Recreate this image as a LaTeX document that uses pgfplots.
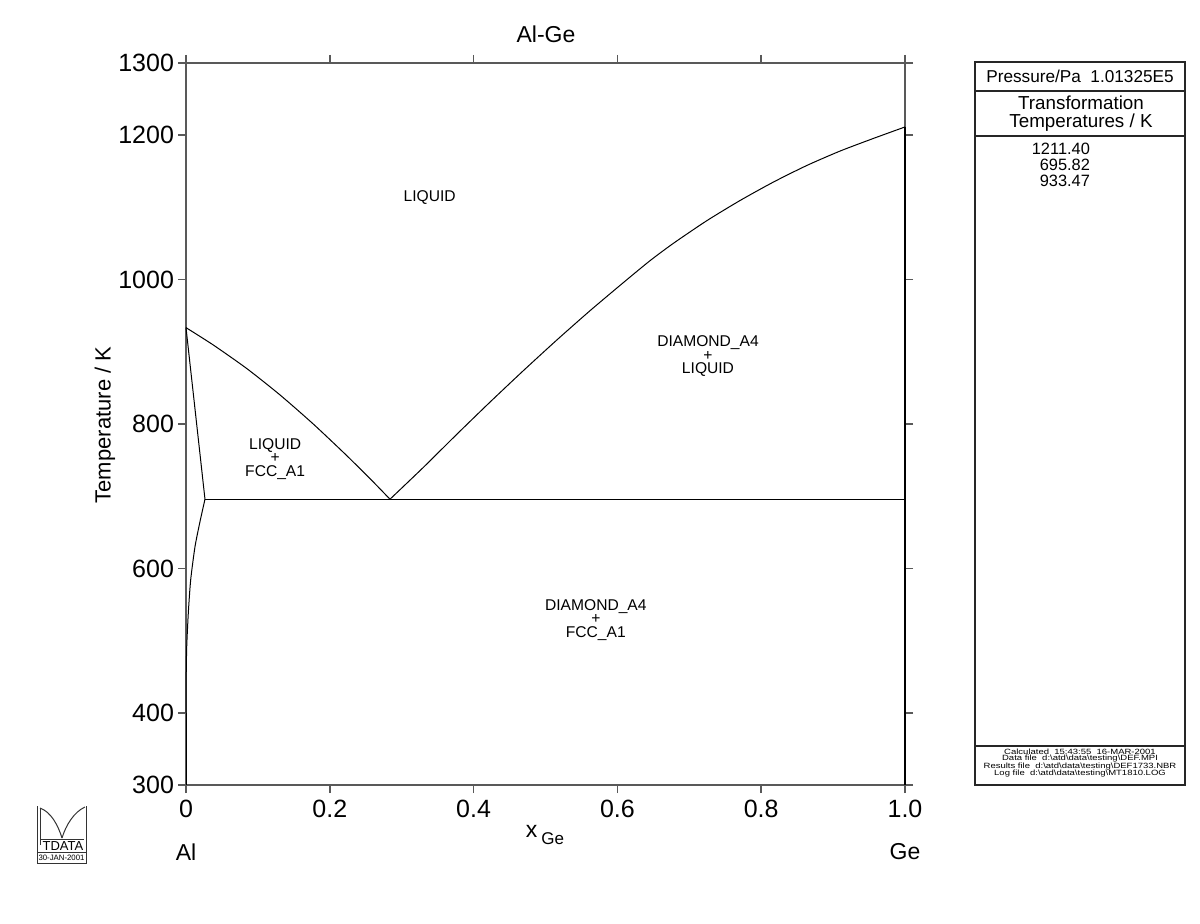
\documentclass[border=0pt]{standalone}
\usepackage{fontspec}
\setmainfont{Liberation Sans}
\newfontfamily\widefont[FakeStretch=1.25]{Liberation Sans}
\usepackage{pgfplots}
\pgfplotsset{compat=1.18}
\begin{document}
\begin{tikzpicture}
\path (0,0) rectangle (600pt,461.5pt);
\begin{axis}[
  at={(93pt,69pt)}, anchor=south west,
  scale only axis, width=359.5pt, height=361pt,
  xmin=0, xmax=1, ymin=300, ymax=1300,
  xtick={0,0.2,0.4,0.6,0.8,1}, xticklabels={0,0.2,0.4,0.6,0.8,1.0},
  ytick={300,400,600,800,1000,1200,1300},
  yticklabels={300,400,600,800,1000,1200,1300},
  tick align=outside, major tick length=4pt,
  axis line style={line width=0.8pt, black!65},
  every tick/.style={line width=0.8pt, black!65},
  ticklabel style={font=\fontsize{12.5}{12.5}\selectfont},
  yticklabel style={xshift=1.5pt},
  /pgf/number format/assume math mode=true,
  clip=false,
]
% left liquidus
\addplot[black, line width=0.5pt, smooth, tension=0.4] coordinates {
(0,933.47) (0.038,909.4) (0.0844,876.9) (0.1307,840.3) (0.1771,799.9)
(0.2235,756.3) (0.2605,719.7) (0.2837,695.82)};
% right liquidus
\addplot[black, line width=0.5pt, smooth, tension=0.4] coordinates {
(0.2837,695.82) (0.330,739.8) (0.3765,785.6) (0.4228,830.3) (0.469,873.7)
(0.5156,916.2) (0.5619,956.9) (0.608,995.6) (0.645,1025.9) (0.6778,1050.2)
(0.7242,1081.5) (0.7705,1109.5) (0.8168,1135) (0.8633,1158)
(0.9096,1178) (0.956,1195.5) (1,1211.4)};
% solidus
\addplot[black, line width=0.5pt] coordinates {(0,933.47) (0.0264,695.82)};
% solvus
\addplot[black, line width=0.5pt, smooth, tension=0.4] coordinates {
(0.0264,695.82) (0.0195,665) (0.0125,630) (0.0065,584) (0.0032,538)
(0.001,491.5) (0.0002,445) (0,400)};
\addplot[black, line width=0.5pt] coordinates {(0,400) (0,300)};
% eutectic
\addplot[black, line width=0.5pt] coordinates {(0.0264,695.82) (1,695.82)};
% Ge side
\addplot[black, line width=0.6pt] coordinates {(1,300) (1,1211.4)};
% labels
\node[font=\fontsize{7.8}{6.75}\selectfont] at (axis cs:0.339,1113) {LIQUID};
\node[font=\fontsize{7.8}{6.75}\selectfont, align=center] at (axis cs:0.124,751.5) {LIQUID\\+\\FCC\_A1};
\node[font=\fontsize{7.8}{6.75}\selectfont, align=center] at (axis cs:0.726,894) {DIAMOND\_A4\\+\\LIQUID};
\node[font=\fontsize{7.8}{6.75}\selectfont, align=center] at (axis cs:0.570,528.5) {DIAMOND\_A4\\+\\FCC\_A1};
\end{axis}
\begin{scope}[shift={(0pt,461.5pt)}, x=0.5pt, y=-0.5pt]
% titles
\node[font=\fontsize{11.5}{11.5}\selectfont] at (546,34) {Al-Ge};
\node[font=\fontsize{11}{11}\selectfont, rotate=90] at (105,425) {Temperature / K};
\node[font=\fontsize{11.5}{11.5}\selectfont] at (545,835) {x\,\raisebox{-0.6ex}{\fontsize{8.5}{8.5}\selectfont Ge}};
\node[font=\fontsize{11.5}{11.5}\selectfont] at (186,852) {Al};
\node[font=\fontsize{11.5}{11.5}\selectfont] at (905,852) {Ge};
% right box
\draw[line width=0.6pt, black!85] (975,62) rectangle (1185,785);
\draw[line width=0.6pt, black!85] (975,91) -- (1185,91);
\draw[line width=0.6pt, black!85] (975,136) -- (1185,136);
\draw[line width=0.6pt, black!85] (975,746) -- (1185,746);
\node[font=\fontsize{8.6}{8.6}\selectfont] at (1080,76) {Pressure/Pa\ \ 1.01325E5};
\node[font=\fontsize{9.4}{9}\selectfont, align=center] at (1081,113.5) {Transformation\\Temperatures / K};
\node[font=\fontsize{8.2}{8}\selectfont, anchor=east] at (1097,149) {1211.40};
\node[font=\fontsize{8.2}{8}\selectfont, anchor=east] at (1097,165) {695.82};
\node[font=\fontsize{8.2}{8}\selectfont, anchor=east] at (1097,181) {933.47};
\begin{scope}[every node/.style={font=\widefont\fontsize{3.8}{3.8}\selectfont, inner sep=0pt}]
\node at (1080,751.5) {Calculated\ \ 15:43:55\ \ 16-MAR-2001};
\node at (1080,759) {Data file\ \ d:\textbackslash atd\textbackslash data\textbackslash testing\textbackslash DEF.MPI};
\node at (1080,766.5) {Results file\ \ d:\textbackslash atd\textbackslash data\textbackslash testing\textbackslash DEF1733.NBR};
\node at (1080,774) {Log file\ \ d:\textbackslash atd\textbackslash data\textbackslash testing\textbackslash MT1810.LOG};
\end{scope}
% logo
\draw[line width=0.5pt, black!80] (37,806) -- (37,863) -- (86,863) -- (86,806);
\draw[line width=0.5pt, black!80] (37,852) -- (86,852);
\draw[line width=0.5pt, black!80] (40,808) -- (40,845);
\draw[line width=0.5pt, black!80] (40,808) .. controls (51,812) and (58,825) .. (62,838);
\draw[line width=0.5pt, black!80] (62,838) .. controls (66,825) and (74,812) .. (85,807);
\draw[line width=0.4pt, black!80] (40,839) -- (84,839);
\node[font=\fontsize{6.5}{6.5}\selectfont, inner sep=0pt] at (63,846) {TDATA};
\node[font=\fontsize{3.9}{3.9}\selectfont, inner sep=0pt] at (61.5,858) {30-JAN-2001};
\end{scope}
\end{tikzpicture}
\end{document}
